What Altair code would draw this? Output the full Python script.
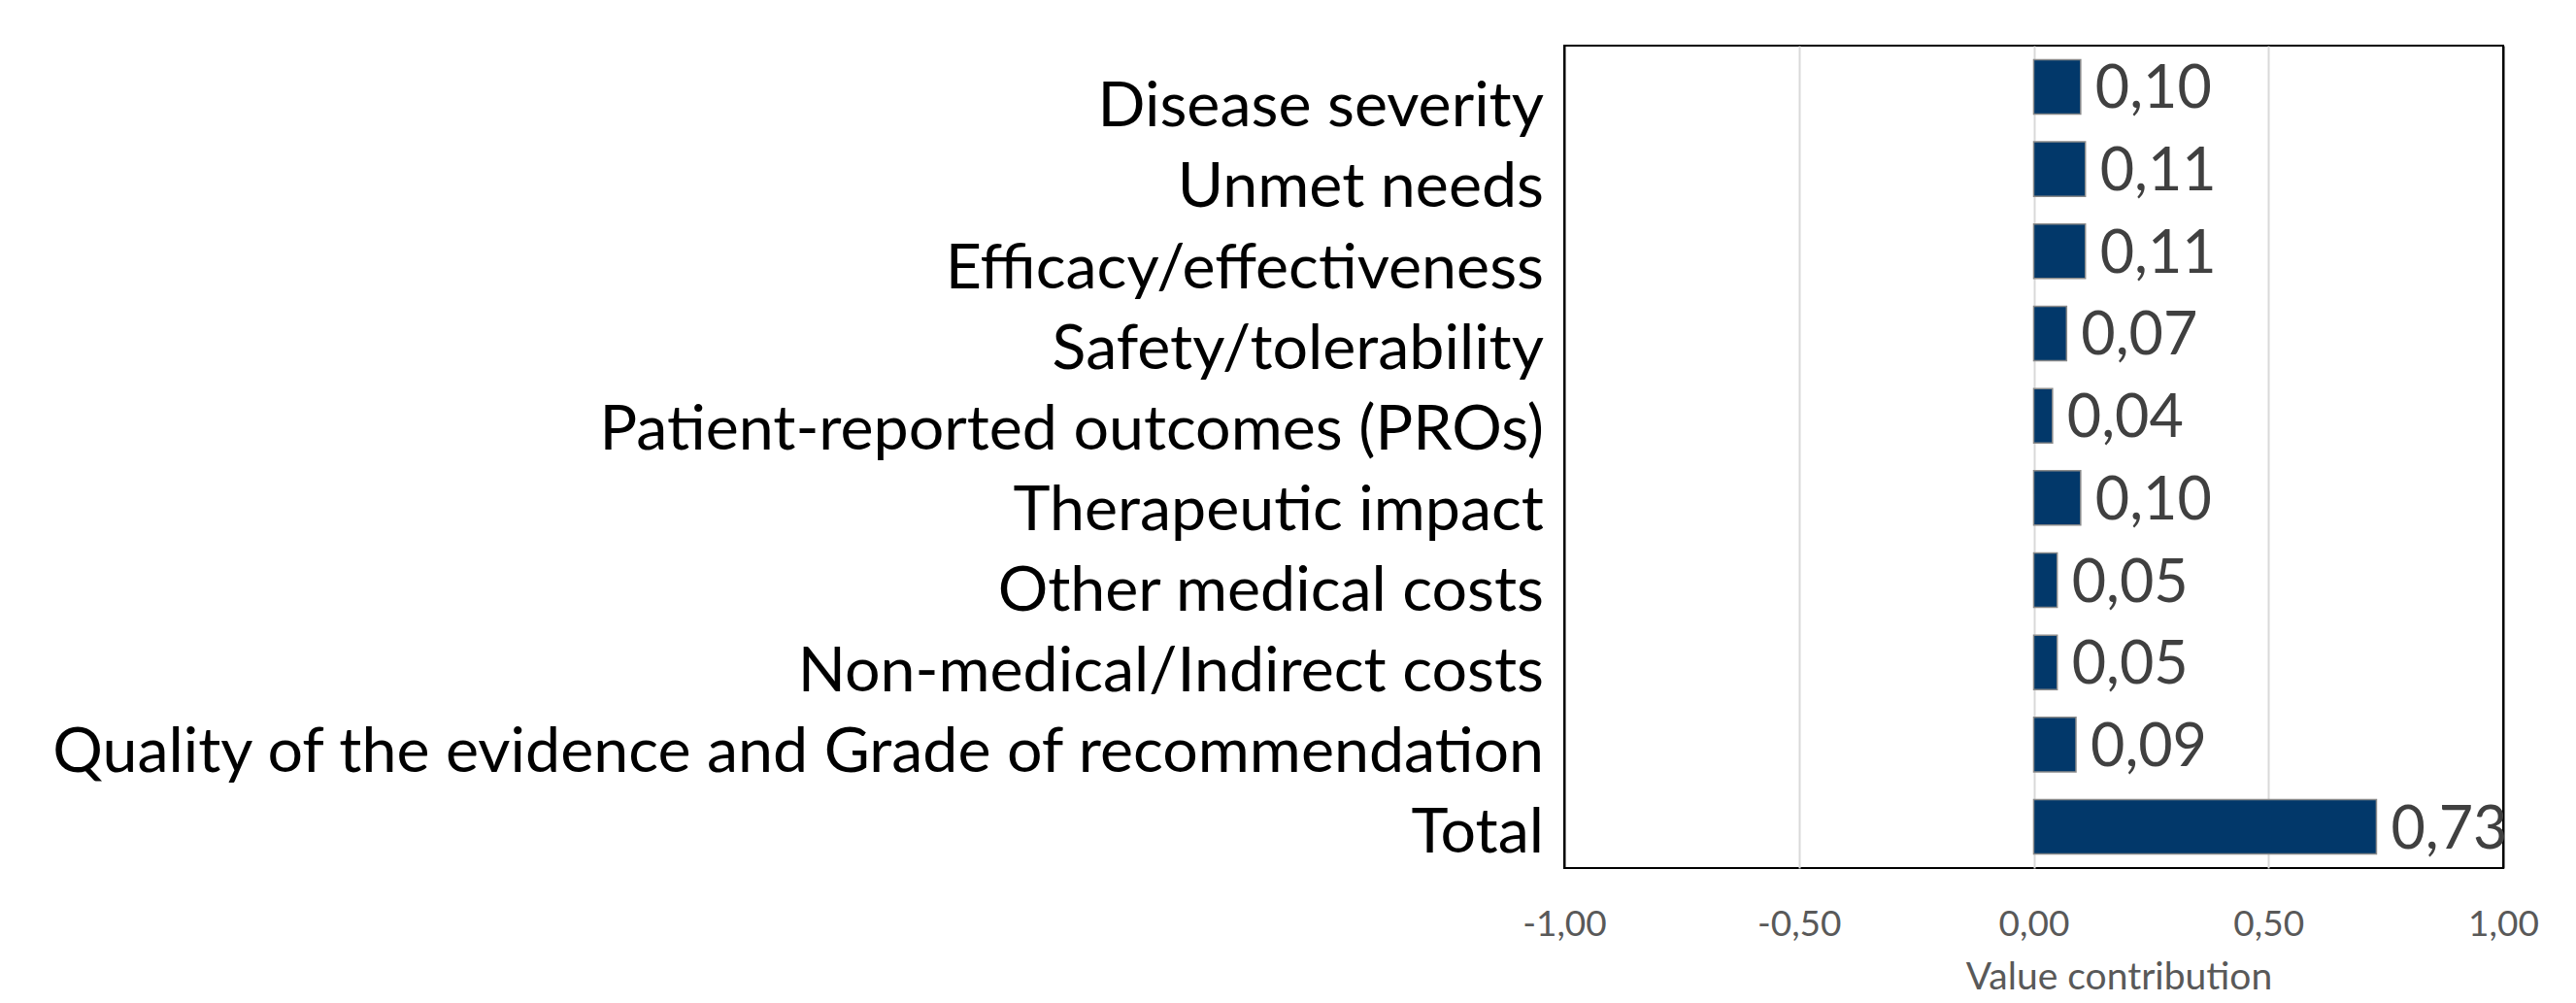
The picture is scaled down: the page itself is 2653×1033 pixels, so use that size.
import altair as alt
import pandas as pd

categories = [
    "Disease severity",
    "Unmet needs",
    "Efficacy/effectiveness",
    "Safety/tolerability",
    "Patient-reported outcomes (PROs)",
    "Therapeutic impact",
    "Other medical costs",
    "Non-medical/Indirect costs",
    "Quality of the evidence and Grade of recommendation",
    "Total",
]
values = [0.10, 0.11, 0.11, 0.07, 0.04, 0.10, 0.05, 0.05, 0.09, 0.73]
x_ticks = [-1.0, -0.5, 0.0, 0.5, 1.0]

df = pd.DataFrame({"cat": categories, "v": values})

FONT = "Lato"
BAR = "#02386a"

base = alt.Chart(df)

ysc = alt.Y("cat:N", sort=categories,
            scale=alt.Scale(paddingInner=0.338, paddingOuter=0.17), axis=None)

xenc = alt.X(
    "v:Q",
    scale=alt.Scale(domain=[-1, 1], nice=False, zero=False),
    axis=alt.Axis(
        values=x_ticks,
        labelExpr="replace(replace(format(datum.value, '.2f'), '.', ','), '\u2212', '-')",
        labelFont=FONT, labelFontSize=37, labelColor="#595959",
        labelPadding=69, labelBaseline="alphabetic",
        labelFlush=False, labelOverlap=False,
        ticks=False, tickSize=0, domain=False,
        grid=True,
        gridColor={"condition": {"test": "abs(datum.value) == 1", "value": "black"},
                   "value": "#d9d9d9"},
        gridWidth=2,
        title="Value contribution", titleFont=FONT, titleFontSize=39,
        titleFontWeight="normal", titleColor="#595959",
        titleX=571, titleY=124, titleAlign="center", titleBaseline="alphabetic",
    ),
)

bars = base.mark_bar(color=BAR, stroke="#8a8a8a", strokeWidth=1.5).encode(
    x=xenc, x2=alt.datum(0), y=ysc
)

vals = base.transform_calculate(
    lab="replace(format(datum.v, '.2f'), '.', ',')"
).mark_text(align="left", baseline="middle", dx=15, dy=4, font=FONT, fontSize=61,
            color="#404040").encode(
    x=alt.X("v:Q"), y=ysc, text="lab:N"
)

cat_labels = base.mark_text(align="right", baseline="alphabetic", font=FONT,
                            fontSize=64.5, color="black").encode(
    x=alt.value(-21),
    y=alt.Y("cat:N", sort=categories,
            scale=alt.Scale(type="point", range=[83.3, 831.3], padding=0),
            axis=None),
    text="cat:N",
)

chart = alt.layer(bars, vals, cat_labels).resolve_scale(y="independent").properties(
    width=967, height=847,
    background="white",
    padding={"left": 1603, "top": 39, "right": 67, "bottom": 131},
    autosize=alt.AutoSizeParams(type="none"),
).configure_view(stroke="black", strokeWidth=2)

chart.save("out.html", embed_options={"renderer": "svg", "actions": False})
